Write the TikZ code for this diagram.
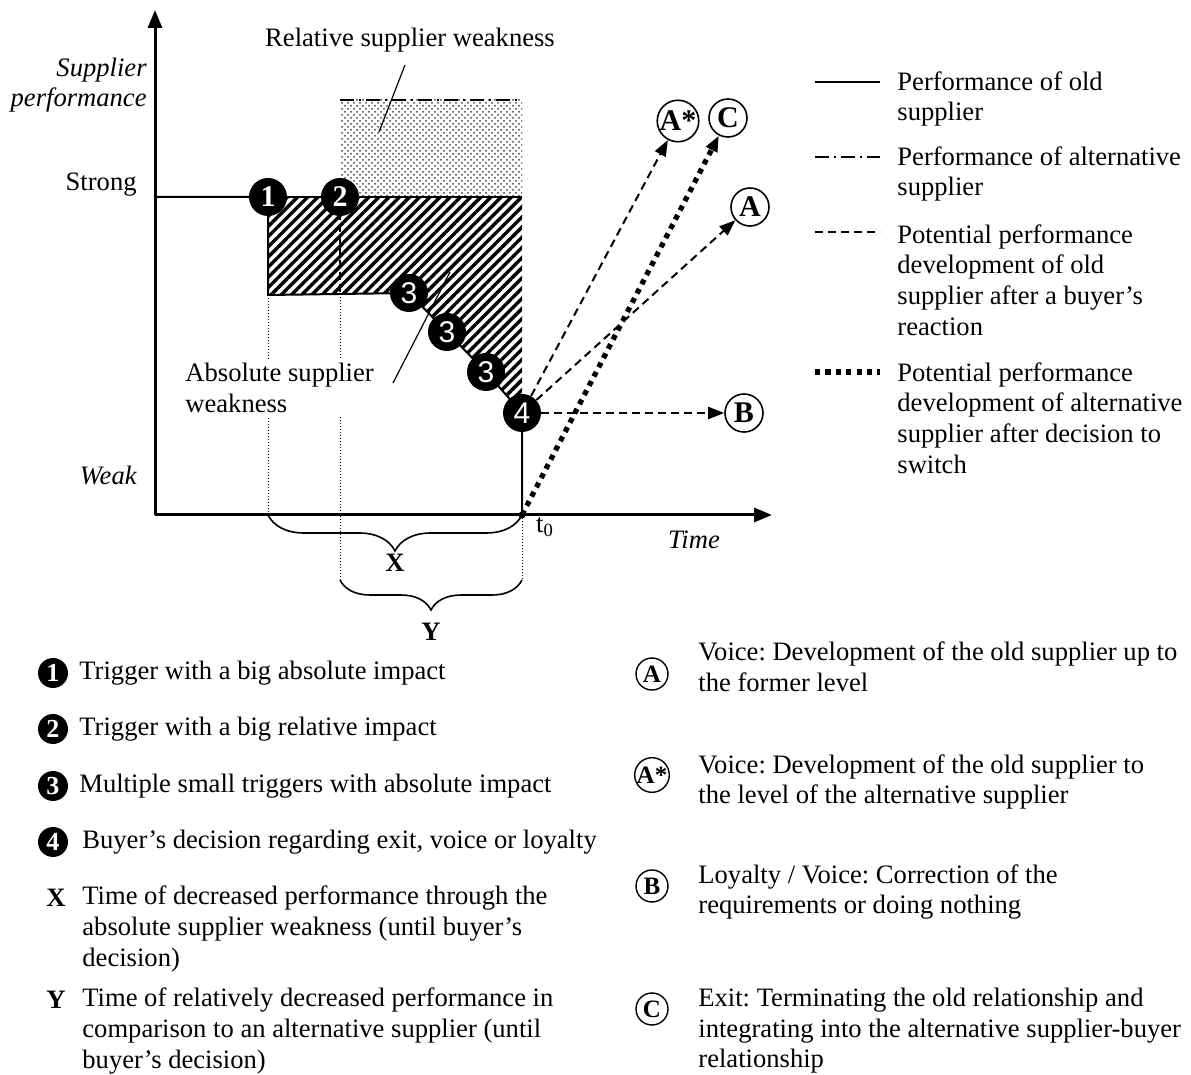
\documentclass[tikz,border=0pt]{standalone}
\usepackage{fontspec}
\setmainfont{Liberation Serif}
\newfontfamily\sansdig{Liberation Sans}
\usetikzlibrary{arrows.meta,patterns.meta,decorations.pathreplacing}
\frenchspacing
\begin{document}
\begin{tikzpicture}[x=0.5pt,y=-0.5pt,
  every node/.style={font=\fontsize{13.3}{15.3}\selectfont},
  axis/.style={line width=1.5pt,-{Triangle[length=9pt,width=7pt]}},
  oldline/.style={line width=1pt},
  altline/.style={line width=1pt,dash pattern=on 7pt off 2.5pt on 1pt off 2.5pt},
  voiceline/.style={line width=1pt,dash pattern=on 4pt off 2.5pt},
  switchline/.style={line width=2.6pt,dash pattern=on 2.6pt off 2.6pt},
  guide/.style={line width=0.5pt,dash pattern=on 0.5pt off 1pt},
  tip/.style={-{Triangle[length=8pt,width=6pt]}},
  trig/.style={circle,fill=black,text=white,inner sep=0pt,minimum size=19pt,
    font=\fontsize{15}{15}\selectfont\bfseries},
  trigsans/.style={trig,font=\sansdig\fontsize{15}{15}\selectfont},
  react/.style={circle,draw,line width=0.8pt,fill=white,inner sep=0pt,minimum size=19pt,
    font=\fontsize{15}{15}\selectfont\bfseries},
  keytrig/.style={trig,minimum size=15pt,font=\fontsize{13}{13}\selectfont\bfseries},
  keyreact/.style={react,minimum size=16pt,line width=0.7pt,font=\fontsize{12.5}{12.5}\selectfont\bfseries},
  lab/.style={inner sep=0pt,align=left,anchor=west},
  side/.style={inner sep=0pt,anchor=east},
  keyline/.style={line width=1pt},
]
\useasboundingbox (0,0) rectangle (1191,1075);

% ---------- key points of the performance curve ----------
\coordinate (o)   at (155,515);
\coordinate (s0)  at (155,197);
\coordinate (p1)  at (268,197);
\coordinate (p2)  at (340,197);
\coordinate (d1)  at (268,295);
\coordinate (d2)  at (340,294);
\coordinate (k1)  at (409,293);
\coordinate (k2)  at (447,332);
\coordinate (k3)  at (486,372);
\coordinate (k4)  at (522,413);
\coordinate (t0)  at (522,515);
\coordinate (hr)  at (522,197);
\coordinate (ytop) at (155,10);
\coordinate (xend) at (772,515);

% ---------- relative weakness (alternative supplier level) ----------
\fill[pattern={Dots[radius=0.5pt,distance=3pt]},pattern color=black!75] (340,100) rectangle (522,197);
\fill[pattern={Dots[radius=0.5pt,distance=3pt,xshift=1.5pt,yshift=1.5pt]},pattern color=black!75] (340,100) rectangle (522,197);
\coordinate (a0) at (340,100);
\coordinate (a1) at (522,100);
\draw[altline] (a0) -- (a1);

% ---------- absolute weakness ----------
\fill[pattern={Lines[angle=45,distance=3.6pt,line width=1.7pt]}]
  (p1) -- (hr) -- (k4) -- (k3) -- (k2) -- (k1) -- (d1) -- cycle;
\draw[line width=0.6pt] (p1) -- (hr);
\coordinate (q2) at (340,212);
\draw[line width=0.6pt,dash pattern=on 4pt off 2pt] (q2) -- (d2);

% ---------- guide lines down to the time axis ----------
\coordinate (g1) at (268,515);
\coordinate (g2) at (340,580);
\coordinate (g3) at (522,580);
\draw[guide] (d1) -- (g1);
\draw[guide] (d2) -- (g2);
\draw[guide] (t0) -- (g3);

% ---------- weakness labels ----------
\node[lab,fill=white,inner sep=2pt] (abs) at (181,388) {Absolute supplier\\weakness};
\coordinate (absl0) at (393,383);
\coordinate (absl1) at (450,272);
\draw[line width=0.6pt] (absl0) -- (absl1);
\node (rel) at (410,40) {Relative supplier weakness};
\coordinate (rell0) at (405,65);
\coordinate (rell1) at (379,132);
\draw[line width=0.6pt] (rell0) -- (rell1);

% ---------- old supplier performance ----------
\draw[oldline] (s0) -- (p1) -- (d1) -- (k1) -- (k2) -- (k3) -- (k4) -- (t0);

% ---------- axes ----------
\draw[axis] (o) -- (ytop);
\draw[axis] (o) -- (xend);
\node[side,align=right,font=\fontsize{13.3}{15.3}\selectfont\itshape] (ylab) at (147,85) {Supplier\\performance};
\node[side] (strong) at (137,185) {Strong};
\node[side,font=\fontsize{13.3}{15.3}\selectfont\itshape] (weak) at (137,475) {Weak};
\node[font=\fontsize{13.3}{15.3}\selectfont\itshape] (time) at (694,540) {Time};
\node (t0lab) at (545,527) {t\textsubscript{0}};
\fill (t0) circle (3.5);

% ---------- braces ----------
\draw[line width=0.8pt,decorate,decoration={brace,amplitude=18pt}] (t0) -- (g1);
\node[font=\fontsize{13.3}{15.3}\selectfont\bfseries] (xl) at (395,563) {X};
\draw[line width=0.8pt,decorate,decoration={brace,amplitude=15pt}] (g3) -- (g2);
\node[font=\fontsize{13.3}{15.3}\selectfont\bfseries] (yl) at (431,632) {Y};

% ---------- buyer reactions ----------
\node[react] (As) at (678,121) {A*};
\node[react] (C)  at (728,118) {C};
\node[react] (A)  at (750,207) {A};
\node[react] (B)  at (744,413) {B};

% ---------- triggers ----------
\node[trig] (n1) at (p1) {1};
\node[trig] (n2) at (p2) {2};
\node[trigsans] (n3a) at (k1) {3};
\node[trigsans] (n3b) at (k2) {3};
\node[trigsans] (n3c) at (k3) {3};
\node[trigsans] (n4) at (k4) {4};

\draw[voiceline,tip] (n4) -- (As);
\draw[voiceline,tip] (n4) -- (A);
\draw[voiceline,tip] (n4) -- (B);
\draw[switchline,tip] (t0) -- (C);

% ---------- line key ----------
\coordinate (l1a) at (815,82);  \coordinate (l1b) at (880,82);
\coordinate (l2a) at (815,157); \coordinate (l2b) at (880,157);
\coordinate (l3a) at (815,232); \coordinate (l3b) at (880,232);
\coordinate (l4a) at (815,372); \coordinate (l4b) at (880,372);
\draw[keyline] (l1a) -- (l1b);
\draw[altline] (l2a) -- (l2b);
\draw[voiceline] (l3a) -- (l3b);
\draw[switchline] (l4a) -- (l4b);
\node[lab] (k1t) at (897,99)  {Performance of old\\supplier};
\node[lab] (k2t) at (897,174) {Performance of alternative\\supplier};
\node[lab] (k3t) at (897,280) {Potential performance\\development of old\\supplier after a buyer's\\reaction};
\node[lab] (k4t) at (897,418) {Potential performance\\development of alternative\\supplier after decision to\\switch};

% ---------- trigger key ----------
\node[keytrig] (e1) at (53,673) {1};
\node[lab] (e1t) at (79,673) {Trigger with a big absolute impact};
\node[keytrig] (e2) at (53,729) {2};
\node[lab] (e2t) at (79,729) {Trigger with a big relative impact};
\node[keytrig] (e3) at (53,786) {3};
\node[lab] (e3t) at (79,786) {Multiple small triggers with absolute impact};
\node[keytrig] (e4) at (53,842) {4};
\node[lab] (e4t) at (82,842) {Buyer's decision regarding exit, voice or loyalty};
\node[font=\fontsize{13.3}{15.3}\selectfont\bfseries] (eX) at (56,898) {X};
\node[lab] (eXt) at (82,929) {Time of decreased performance through the\\absolute supplier weakness (until buyer's\\decision)};
\node[font=\fontsize{13.3}{15.3}\selectfont\bfseries] (eY) at (56,1000) {Y};
\node[lab] (eYt) at (82,1031) {Time of relatively decreased performance in\\comparison to an alternative supplier (until\\buyer's decision)};

% ---------- reaction key ----------
\node[keyreact] (rA) at (652,674) {A};
\node[lab] (rAt) at (698,667) {Voice: Development of the old supplier up to\\the former level};
\node[keyreact] (rAs) at (652,775) {A*};
\node[lab] (rAst) at (698,782) {Voice: Development of the old supplier to\\the level of the alternative supplier};
\node[keyreact] (rB) at (652,886) {B};
\node[lab] (rBt) at (698,892) {Loyalty / Voice: Correction of the\\requirements or doing nothing};
\node[keyreact] (rC) at (652,1009) {C};
\node[lab] (rCt) at (698,1031) {Exit: Terminating the old relationship and\\integrating into the alternative supplier-buyer\\relationship};
\end{tikzpicture}
\end{document}
